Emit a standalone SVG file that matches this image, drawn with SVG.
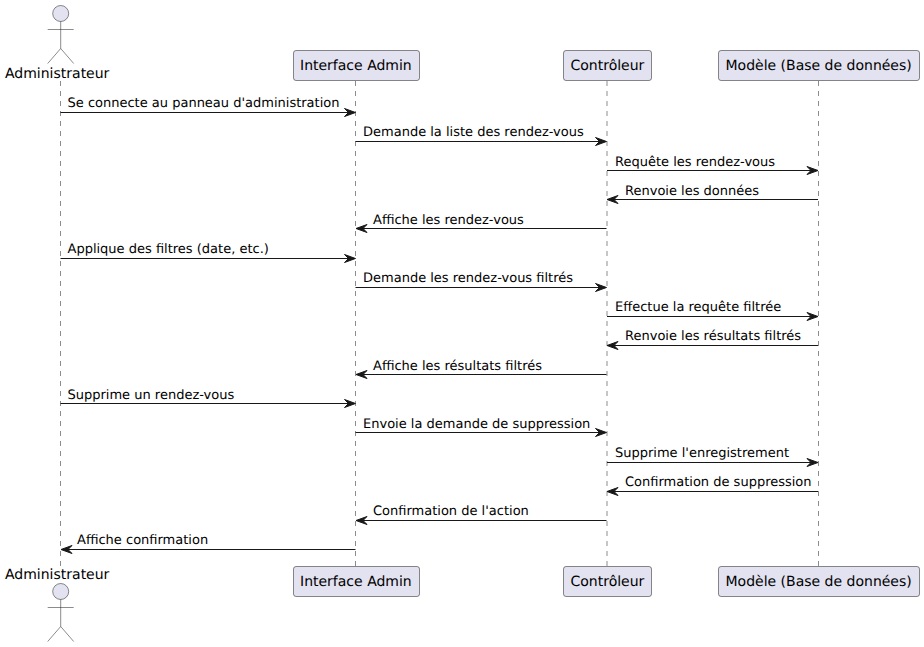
<svg xmlns="http://www.w3.org/2000/svg" width="924" height="647" viewBox="0 0 924 647">
<style>
text{font-family:"DejaVu Sans",sans-serif;fill:#000;text-rendering:geometricPrecision}
.m{font-size:13px}
.p{font-size:14px}
.life{stroke:#181818;stroke-width:.5;stroke-dasharray:5 5;fill:none}
.box{fill:#E2E2F0;stroke:#181818;stroke-width:.5}
.act{fill:#E2E2F0;stroke:#181818;stroke-width:.5}
.msg{stroke:#181818;stroke-width:1;fill:none}
.head{fill:#181818;stroke:#181818;stroke-width:1}
</style>
<defs>
<g id="actor"><circle class="act" cx="0" cy="0" r="8"/><path class="act" style="fill:none" d="M0 8V35M-13 16H13M0 35L-13 50M0 35L13 50"/></g>
<path id="ar" class="head" d="M-11 -4L0 0L-11 4L-7 0Z"/>
<path id="al" class="head" d="M11 -4L0 0L11 4L7 0Z"/>
</defs>
<g id="lifelines">
<path class="life" d="M60.5 81V568"/>
<path class="life" d="M355.500 81V567"/>
<path class="life" d="M607 81V567"/>
<path class="life" d="M818.500 81V567"/>
</g>
<g id="admin-top"><use href="#actor" x="60.7" y="13.5"/><text class="p" x="5" y="78">Administrateur</text></g>
<g id="admin-bottom"><text class="p" x="5" y="579">Administrateur</text><use href="#actor" x="60.7" y="591.5"/></g>
<g id="iface-top"><rect class="box" x="293.5" y="50.5" width="126" height="30" rx="2.5"/><text class="p" x="300" y="70">Interface Admin</text></g>
<g id="iface-bottom"><rect class="box" x="293.5" y="566.5" width="126" height="30" rx="2.5"/><text class="p" x="300" y="586">Interface Admin</text></g>
<g id="ctrl-top"><rect class="box" x="563.5" y="50.5" width="88" height="30" rx="2.5"/><text class="p" x="570.5" y="70">Contrôleur</text></g>
<g id="ctrl-bottom"><rect class="box" x="563.5" y="566.5" width="88" height="30" rx="2.5"/><text class="p" x="570.5" y="586">Contrôleur</text></g>
<g id="model-top"><rect class="box" x="718.5" y="50.5" width="201" height="30" rx="2.5"/><text class="p" x="725.5" y="70">Modèle (Base de données)</text></g>
<g id="model-bottom"><rect class="box" x="718.5" y="566.5" width="201" height="30" rx="2.5"/><text class="p" x="725.5" y="586">Modèle (Base de données)</text></g>
<g id="connectors">
<path class="msg" d="M60.5 112.500H354"/><use href="#ar" x="355.500" y="112.500"/>
<path class="msg" d="M355.500 141.500H605"/><use href="#ar" x="606.500" y="141.500"/>
<path class="msg" d="M607 170.500H817"/><use href="#ar" x="818" y="170.500"/>
<path class="msg" d="M608 199.500H818"/><use href="#al" x="607" y="199.500"/>
<path class="msg" d="M357 228.500H606.500"/><use href="#al" x="356" y="228.500"/>
<path class="msg" d="M60.5 258.500H354"/><use href="#ar" x="355.500" y="258.500"/>
<path class="msg" d="M355.500 287.500H605"/><use href="#ar" x="606.500" y="287.500"/>
<path class="msg" d="M607 316.500H817"/><use href="#ar" x="818" y="316.500"/>
<path class="msg" d="M608 345.500H818"/><use href="#al" x="607" y="345.500"/>
<path class="msg" d="M357 374.500H606.500"/><use href="#al" x="356" y="374.500"/>
<path class="msg" d="M60.5 403.500H354"/><use href="#ar" x="355.500" y="403.500"/>
<path class="msg" d="M355.500 432.500H605"/><use href="#ar" x="606.500" y="432.500"/>
<path class="msg" d="M607 462.500H817"/><use href="#ar" x="818" y="462.500"/>
<path class="msg" d="M608 491.500H818"/><use href="#al" x="607" y="491.500"/>
<path class="msg" d="M357 520.500H606.500"/><use href="#al" x="356" y="520.500"/>
<path class="msg" d="M62 549.500H355.500"/><use href="#al" x="61" y="549.500"/>
</g>
<g id="labels">
<text class="m" x="67.500" y="107">Se connecte au panneau d'administration</text>
<text class="m" x="363" y="136">Demande la liste des rendez-vous</text>
<text class="m" x="615" y="166">Requête les rendez-vous</text>
<text class="m" x="625" y="195">Renvoie les données</text>
<text class="m" x="373" y="224">Affiche les rendez-vous</text>
<text class="m" x="67.500" y="253">Applique des filtres (date, etc.)</text>
<text class="m" x="363" y="282">Demande les rendez-vous filtrés</text>
<text class="m" x="615" y="311">Effectue la requête filtrée</text>
<text class="m" x="625" y="340">Renvoie les résultats filtrés</text>
<text class="m" x="373" y="370">Affiche les résultats filtrés</text>
<text class="m" x="67.500" y="399">Supprime un rendez-vous</text>
<text class="m" x="363" y="428">Envoie la demande de suppression</text>
<text class="m" x="615" y="457">Supprime l'enregistrement</text>
<text class="m" x="625" y="486">Confirmation de suppression</text>
<text class="m" x="373" y="515">Confirmation de l'action</text>
<text class="m" x="77" y="544">Affiche confirmation</text>
</g>
</svg>
